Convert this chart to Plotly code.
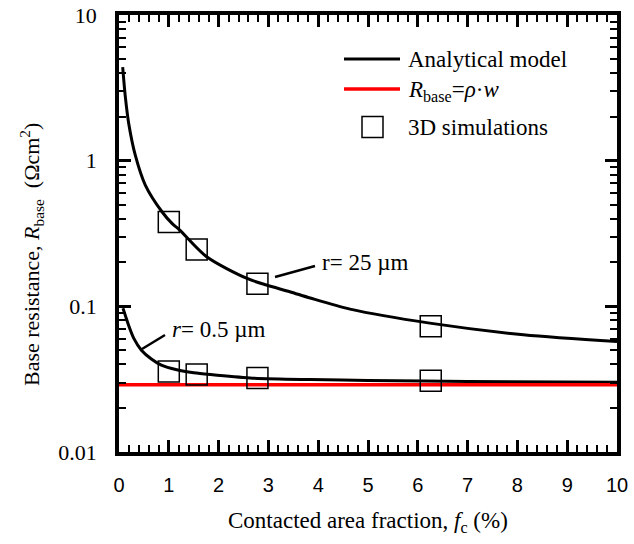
import plotly.graph_objects as go

# Analytical model, r = 25 um
fc_r25 = [0.074, 0.127, 0.195, 0.327, 0.528, 0.863, 1.064, 1.22, 1.76, 2.56, 2.96, 3.43, 3.84, 4.64, 6.24, 8.12, 10.0]
rb_r25 = [4.39, 2.75, 1.80, 1.09, 0.68, 0.446, 0.371, 0.334, 0.219, 0.156, 0.140, 0.126, 0.114, 0.0957, 0.0767, 0.0638, 0.0574]

# Analytical model, r = 0.5 um
fc_r05 = [0.08, 0.13, 0.2, 0.3, 0.45, 0.65, 0.85, 1.16, 1.5, 1.83, 2.63, 3.84, 5.0, 7.0, 10.0]
rb_r05 = [0.097, 0.086, 0.073, 0.060, 0.050, 0.0435, 0.0395, 0.0367, 0.0350, 0.0340, 0.0322, 0.0314, 0.0310, 0.0305, 0.0301]

# R_base = rho * w
rho_w = 0.029
fc_span = [0.0, 10.0]

# 3D simulations
fc_sim = [1.0, 1.56, 2.78, 6.26]
rb_sim_r25 = [0.379, 0.246, 0.143, 0.073]
rb_sim_r05 = [0.0357, 0.0340, 0.0322, 0.0308]

y_ticks = [0.01, 0.1, 1, 10]
y_tick_text = ["0.01", "0.1", "1", "10"]
y_minor = [m * 10.0 ** e for e in (-2, -1, 0) for m in range(2, 10)]

SERIF = "Liberation Serif"
SANS = "Liberation Sans"

fig = go.Figure()

fig.add_trace(go.Scatter(x=fc_r25, y=rb_r25, mode="lines",
                         line=dict(color="black", width=3, shape="spline", smoothing=0.8),
                         name="Analytical model", showlegend=False))
fig.add_trace(go.Scatter(x=fc_r05, y=rb_r05, mode="lines",
                         line=dict(color="black", width=3, shape="spline", smoothing=0.8),
                         name="Analytical model", showlegend=False))
fig.add_trace(go.Scatter(x=fc_span, y=[rho_w, rho_w], mode="lines", line=dict(color="#ff0000", width=3.5),
                         name="R_base = rho*w", showlegend=False))
fig.add_trace(go.Scatter(x=fc_sim, y=rb_sim_r25, mode="markers",
                         marker=dict(symbol="square-open", size=21, color="black", line=dict(width=1.5)),
                         name="3D simulations", showlegend=False))
fig.add_trace(go.Scatter(x=fc_sim, y=rb_sim_r05, mode="markers",
                         marker=dict(symbol="square-open", size=21, color="black", line=dict(width=1.5)),
                         name="3D simulations", showlegend=False))

fig.update_xaxes(
    range=[0, 10], tickmode="linear", tick0=0, dtick=1,
    ticks="inside", ticklen=12, tickwidth=2.5, tickcolor="black",
    showline=True, linecolor="black", linewidth=3.5, mirror="allticks",
    showgrid=False, zeroline=False, ticklabelstandoff=12, automargin=False,
    tickfont=dict(family=SANS, size=20, color="black"),
    minor=dict(ticks="inside", ticklen=7, tickwidth=2, tickcolor="black", tick0=0, dtick=0.2, showgrid=False),
)
fig.update_yaxes(
    type="log", range=[-2, 1], tickmode="array", tickvals=y_ticks, ticktext=y_tick_text,
    ticks="inside", ticklen=12, tickwidth=2.5, tickcolor="black",
    showline=True, linecolor="black", linewidth=3.5, mirror="allticks",
    showgrid=False, zeroline=False, ticklabelstandoff=14, automargin=False,
    tickfont=dict(family=SERIF, size=22, color="black"),
    minor=dict(ticks="inside", ticklen=7, tickwidth=2, tickcolor="black", tickmode="array",
               tickvals=y_minor, showgrid=False),
)

L, R, T, B = 119, 17, 15, 92
W, H = 634, 544
pw, ph = W - L - R, H - T - B


def px(x):
    return (x - L) / pw


def py(y):
    return (H - B - y) / ph


annotations = [
    # axis titles
    dict(text="Contacted area fraction, <i>f</i><sub>c</sub> (%)", x=px(368), y=py(522),
         xref="paper", yref="paper", showarrow=False, xanchor="center", yanchor="middle",
         font=dict(family=SERIF, size=23, color="black")),
    dict(text="Base resistance, <i>R</i><sub>base</sub>  (\u03a9cm<sup>2</sup>)", x=px(31), y=py(255),
         xref="paper", yref="paper", showarrow=False, xanchor="center", yanchor="middle", textangle=-90,
         font=dict(family=SERIF, size=22, color="black")),
    # curve labels
    dict(text="r= 25 \u00b5m", x=4.04, y=-0.701, xref="x", yref="y", showarrow=False,
         xanchor="left", yanchor="middle", font=dict(family=SERIF, size=23, color="black")),
    dict(text="<i>r</i>= 0.5 \u00b5m", x=1.02, y=-1.161, xref="x", yref="y", showarrow=False,
         xanchor="left", yanchor="middle", font=dict(family=SERIF, size=23, color="black")),
    # legend text
    dict(text="Analytical model", x=px(406), y=py(59), xref="paper", yref="paper", showarrow=False,
         xanchor="left", yanchor="middle", font=dict(family=SERIF, size=23, color="black")),
    dict(text="<i>R</i><sub>base</sub>=<i>\u03c1</i>\u00b7<i>w</i>", x=px(406), y=py(91), xref="paper", yref="paper",
         showarrow=False, xanchor="left", yanchor="middle", font=dict(family=SERIF, size=23, color="black")),
    dict(text="3D simulations", x=px(406), y=py(128), xref="paper", yref="paper", showarrow=False,
         xanchor="left", yanchor="middle", font=dict(family=SERIF, size=23, color="black")),
]

shapes = [
    # leader lines from the curve labels to their curves
    dict(type="line", xref="paper", yref="paper", x0=px(275), y0=py(277), x1=px(315), y1=py(266),
         line=dict(color="black", width=2.5)),
    dict(type="line", xref="paper", yref="paper", x0=px(142), y0=py(349), x1=px(165), y1=py(335),
         line=dict(color="black", width=2.5)),
    # legend keys
    dict(type="line", xref="paper", yref="paper", x0=px(344), x1=px(400), y0=py(59), y1=py(59),
         line=dict(color="black", width=3)),
    dict(type="line", xref="paper", yref="paper", x0=px(344), x1=px(400), y0=py(89), y1=py(89),
         line=dict(color="#ff0000", width=3.5)),
    dict(type="rect", xref="paper", yref="paper", xsizemode="pixel", ysizemode="pixel",
         xanchor=px(372.5), yanchor=py(127), x0=-10.5, x1=10.5, y0=-10.5, y1=10.5,
         line=dict(color="black", width=1.5)),
]

fig.update_layout(
    width=W, height=H, margin=dict(l=L, r=R, t=T, b=B, autoexpand=False),
    plot_bgcolor="white", paper_bgcolor="white", showlegend=False,
    annotations=annotations, shapes=shapes,
)

fig.write_html("out.html")
